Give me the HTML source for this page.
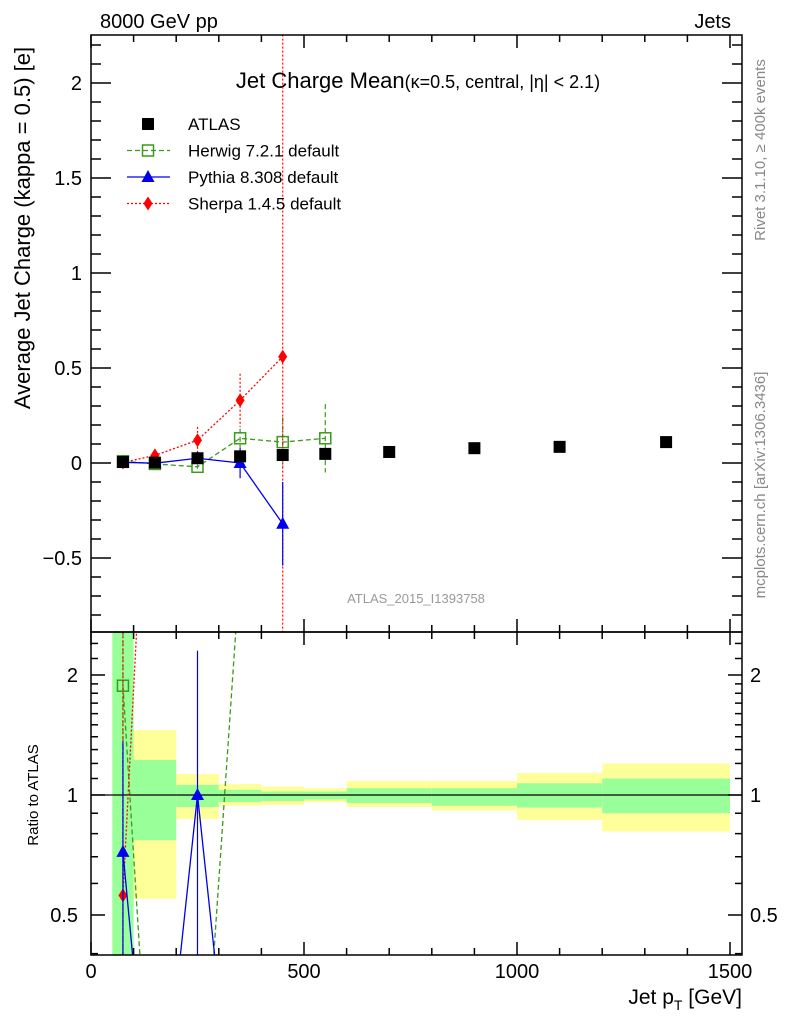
<!DOCTYPE html>
<html><head><meta charset="utf-8"><style>
html,body{margin:0;padding:0;background:#fff;overflow:hidden;width:786px;height:1024px;}
svg{display:block;font-family:"Liberation Sans",sans-serif;}
</style></head><body>
<svg id="c" width="786" height="1024" viewBox="0 0 786 1024" xmlns="http://www.w3.org/2000/svg">
<text x="100" y="28" font-size="20">8000 GeV pp</text>
<text x="731" y="28" font-size="20" text-anchor="end">Jets</text>
<text x="418" y="88" font-size="22" text-anchor="middle">Jet Charge Mean<tspan font-size="18">(κ=0.5, central, |η| &lt; 2.1)</tspan></text>
<text transform="translate(765,150) rotate(-90)" font-size="15" fill="#888" text-anchor="middle">Rivet 3.1.10, ≥ 400k events</text>
<text transform="translate(765,485) rotate(-90)" font-size="15" fill="#888" text-anchor="middle">mcplots.cern.ch [arXiv:1306.3436]</text>
<text transform="translate(30,228) rotate(-90)" font-size="22" text-anchor="middle">Average Jet Charge (kappa = 0.5) [e]</text>
<text transform="translate(38,795) rotate(-90)" font-size="15" text-anchor="middle">Ratio to ATLAS</text>
<text x="742" y="1004" font-size="21" text-anchor="end">Jet p<tspan font-size="14" dy="6">T</tspan><tspan dy="-6"> [GeV]</tspan></text>
<text x="416" y="603" font-size="13" fill="#999" text-anchor="middle">ATLAS_2015_I1393758</text>
<g id="main"></g>
<g id="ratio"></g>
<g id="legend"></g>
</svg>
<script>
const xs = [75,150,250,350,450,550,700,900,1100,1350];
const binLo = [50,100,200,300,400,500,600,800,1000,1200];
const binHi = [100,200,300,400,500,600,800,1000,1200,1500];
const atlas = [0.005,0.002,0.025,0.035,0.042,0.048,0.058,0.078,0.085,0.11];
const bandYellowUp = [9,1.455,1.129,1.065,1.05,1.04,1.085,1.085,1.135,1.2];
const bandGreenUp = [9,1.224,1.06,1.03,1.02,1.02,1.04,1.04,1.07,1.1];
const bandGreenDn = [0.1,0.77,0.933,0.96,0.966,0.975,0.955,0.94,0.93,0.9];
const bandYellowDn = [0.1,0.549,0.87,0.94,0.944,0.96,0.933,0.915,0.865,0.81];
const herwigX = [75,150,250,350,450,550];
const herwig = [0.0094,-0.005,-0.02,0.13,0.11,0.13];
const herwigErr = [0.02,0.01,0.01,0.05,0.13,0.18];
const pythiaX = [75,150,250,350,450];
const pythia = [0.0036,-0.001,0.025,0.0,-0.32];
const pythiaErr = [0.0032,0.01,0.0325,0.08,0.22];
const sherpaX = [75,150,250,350,450];
const sherpa = [0.0028,0.04,0.12,0.33,0.56];
const sherpaErr = [0.02,0.01,0.07,0.14,5];

const NS="http://www.w3.org/2000/svg";
const L=91,R=742,T=35,MB=632,RB=955;
const X=v=>L+(v)*(730-91)/1500;
const Y=v=>463-v*190;
const RY=v=>795-Math.log2(v)*120;
const FLOOR=0.1;
function mk(p,tag,a){const e=document.createElementNS(NS,tag);for(const k in a)e.setAttribute(k,a[k]);p.appendChild(e);return e;}
const svg=document.getElementById('c');
const defs=mk(svg,'defs',{});
const c1=mk(defs,'clipPath',{id:'cm'});mk(c1,'rect',{x:L,y:T,width:R-L,height:MB-T});
const c2=mk(defs,'clipPath',{id:'cr'});mk(c2,'rect',{x:L,y:MB,width:R-L,height:RB-MB});
const main=document.getElementById('main'), ratio=document.getElementById('ratio');
const mg=mk(main,'g',{'clip-path':'url(#cm)'});


const rg=mk(ratio,'g',{'clip-path':'url(#cr)'});



for(let i=0;i<xs.length;i++){
  const y=mk(rg,'rect',{x:X(binLo[i]),y:RY(bandYellowUp[i]),width:X(binHi[i])-X(binLo[i]),height:RY(bandYellowDn[i])-RY(bandYellowUp[i]),fill:'#ffff99'});
  
  
  const g=mk(rg,'rect',{x:X(binLo[i]),y:RY(bandGreenUp[i]),width:X(binHi[i])-X(binLo[i]),height:RY(bandGreenDn[i])-RY(bandGreenUp[i]),fill:'#99ff99'});
  
  
}
mk(rg,'line',{x1:L,x2:R,y1:RY(1),y2:RY(1),stroke:'#000','stroke-width':1.3});

const styles={
 herwig:{c:'#3a9a1a',dash:'5,3',m:'osq'},
 pythia:{c:'#0000ee',dash:'',m:'tri'},
 sherpa:{c:'#ff0000',dash:'2,2',m:'dia'}
};
function marker(p,t,x,y,col,nm){
  let e;
  if(t==='sq') e=mk(p,'rect',{x:x-6,y:y-6,width:12,height:12,fill:'#000'});
  else if(t==='osq') e=mk(p,'rect',{x:x-5.5,y:y-5.5,width:11,height:11,fill:'none',stroke:col,'stroke-width':1.5});
  else if(t==='tri') e=mk(p,'path',{d:`M${x},${y-7}L${x+6.5},${y+5}L${x-6.5},${y+5}Z`,fill:col});
  else e=mk(p,'path',{d:`M${x},${y-7}L${x+4.5},${y}L${x},${y+7}L${x-4.5},${y}Z`,fill:col});
  
  
}
function series(name,xv,vals,errs){
  const s=styles[name];
  const pts=xv.map((x,i)=>X(x)+','+Y(vals[i])).join(' ');
  const pl=mk(mg,'polyline',{points:pts,fill:'none',stroke:s.c,'stroke-width':1.3,'stroke-dasharray':s.dash});
  
  
  xv.forEach((x,i)=>{
    const e=mk(mg,'line',{x1:X(x),x2:X(x),y1:Y(vals[i]+errs[i]),y2:Y(vals[i]-errs[i]),stroke:s.c,'stroke-width':1.2,'stroke-dasharray':s.dash});
    
    
    marker(mg,s.m,X(x),Y(vals[i]),s.c,name+'-point');
  });
  const r=xv.map((x,i)=>{const v=vals[i]/atlas[i];return v>FLOOR?v:FLOOR;});
  const rp=mk(rg,'polyline',{points:xv.map((x,i)=>X(x)+','+RY(r[i])).join(' '),fill:'none',stroke:s.c,'stroke-width':1.3,'stroke-dasharray':s.dash});
  
  
  xv.forEach((x,i)=>{
    if(r[i]<0.39||r[i]>2.6) return;
    const up=(vals[i]+errs[i])/atlas[i], dn=(vals[i]-errs[i])/atlas[i];
    const e=mk(rg,'line',{x1:X(x),x2:X(x),y1:RY(up),y2:RY(dn>FLOOR?dn:FLOOR),stroke:s.c,'stroke-width':1.2,'stroke-dasharray':s.dash});
    
    
    marker(rg,s.m,X(x),RY(r[i]),s.c,name+'-ratio-point');
  });
}
series('herwig',herwigX,herwig,herwigErr);
series('sherpa',sherpaX,sherpa,sherpaErr);
series('pythia',pythiaX,pythia,pythiaErr);
xs.forEach((x,i)=>marker(mg,'sq',X(x),Y(atlas[i]),'#000','atlas-point'));

const ax=mk(svg,'g',{stroke:'#000','stroke-width':1.5,fill:'none'});


mk(ax,'rect',{x:L,y:T,width:R-L,height:MB-T});
mk(ax,'rect',{x:L,y:MB,width:R-L,height:RB-MB});
for(let v=0;v<=1500;v+=100){
  const len=v%500===0?13:7,x=X(v);
  [T,MB].forEach(y=>mk(ax,'line',{x1:x,x2:x,y1:y,y2:y+len}));
  [MB,RB].forEach(y=>mk(ax,'line',{x1:x,x2:x,y1:y,y2:y-len}));
}
for(let k=-8;k<=22;k++){
  const v=k/10,y=Y(v); if(y<T||y>MB)continue;
  const len=k%5===0?20:10;
  mk(ax,'line',{x1:L,x2:L+len,y1:y,y2:y});mk(ax,'line',{x1:R,x2:R-len,y1:y,y2:y});
}
[0.4,0.5,0.6,0.7,0.8,0.9,1,1.1,1.2,1.3,1.4,1.5,1.6,1.7,1.8,1.9,2,2.2,2.4].forEach(v=>{
  const y=RY(v); if(y<MB||y>RB)return;
  const len=(v===0.5||v===1||v===2)?14:7;
  mk(ax,'line',{x1:L,x2:L+len,y1:y,y2:y});mk(ax,'line',{x1:R,x2:R-len,y1:y,y2:y});
});
const mainTicks=['2','1.5','1','0.5','0','−0.5'], mainTickVals=[2,1.5,1,0.5,0,-0.5];
mainTicks.forEach((t,i)=>{const e=mk(svg,'text',{x:82,y:Y(mainTickVals[i])+7,'font-size':20,'text-anchor':'end'});e.textContent=t;
 });
const ratioTicks=['2','1','0.5'],ratioVals=[2,1,0.5];
ratioTicks.forEach((t,i)=>{
 const a=mk(svg,'text',{x:78,y:RY(ratioVals[i])+7,'font-size':20,'text-anchor':'end'});a.textContent=t;
 
 const b=mk(svg,'text',{x:750,y:RY(ratioVals[i])+7,'font-size':20});b.textContent=t;
 
});
const xTicks=['0','500','1000','1500'],xTickVals=[0,500,1000,1500];
xTicks.forEach((t,i)=>{const e=mk(svg,'text',{x:X(xTickVals[i]),y:978,'font-size':20,'text-anchor':'middle'});e.textContent=t;
 });

const lg=document.getElementById('legend');
const entries=[['ATLAS','sq','#000',''],['Herwig 7.2.1 default','osq','#3a9a1a','5,3'],['Pythia 8.308 default','tri','#0000ee',''],['Sherpa 1.4.5 default','dia','#ff0000','2,2']];
entries.forEach((en,i)=>{
  const y=124+i*26.5;
  const g=mk(lg,'g',{});
  
  
  if(i>0) mk(g,'line',{x1:127,x2:170,y1:y,y2:y,stroke:en[2],'stroke-width':1.3,'stroke-dasharray':en[3]});
  marker(g,en[1],148,y,en[2],'legend-marker');
  const t=mk(g,'text',{x:188,y:y+6,'font-size':17});t.textContent=en[0];
});
</script>
</body></html>
